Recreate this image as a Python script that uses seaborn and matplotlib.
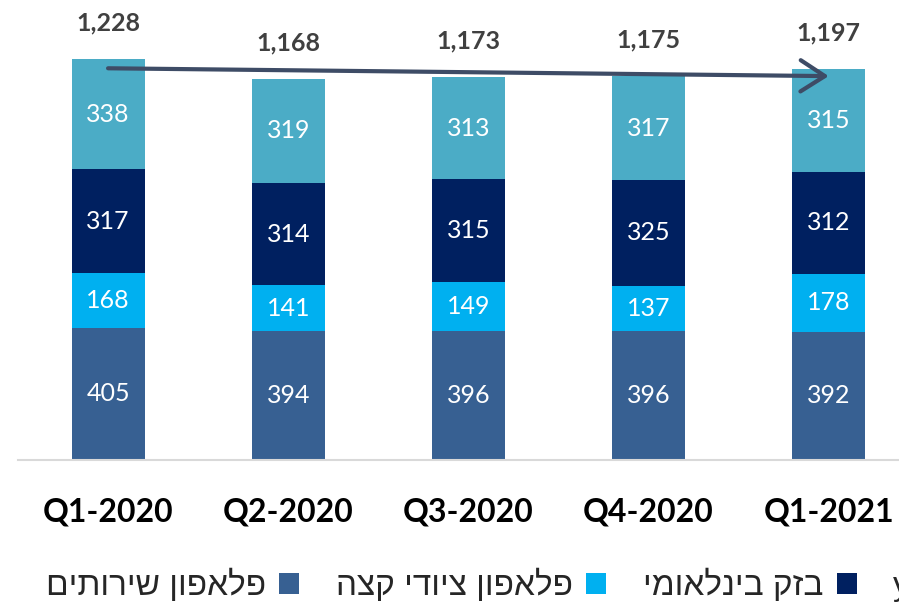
import numpy as np
import matplotlib.pyplot as plt
import seaborn as sns
from matplotlib.patches import Patch

# Quarterly revenue by segment (NIS millions)
quarters = ["Q1-2020", "Q2-2020", "Q3-2020", "Q4-2020", "Q1-2021"]
pelephone_services = [405, 394, 396, 396, 392]
pelephone_equipment = [168, 141, 149, 137, 178]
bezeq_international = [317, 314, 315, 325, 312]
yes_tv = [338, 319, 313, 317, 315]
totals = [1228, 1168, 1173, 1175, 1197]

series_names = ["פלאפון שירותים", "פלאפון ציודי קצה", "בזק בינלאומי", "yes"]
colors = ["#376092", "#00B0F0", "#002060", "#4BACC6"]


def rtl(s):
    # matplotlib has no bidi support, so reverse Hebrew text for display
    if any("\u0590" <= ch <= "\u05ff" for ch in s):
        return s[::-1]
    return s


sns.set_style("white")
plt.rcParams["font.family"] = ["Lato", "DejaVu Sans"]

fig = plt.figure(figsize=(8.99, 6.02), dpi=100)
ax = fig.add_axes([0.02, 0.236, 0.98, 0.759])

series = [pelephone_services, pelephone_equipment, bezeq_international, yes_tv]
layers = np.cumsum(series, axis=0)

# stacked bars: draw cumulative heights from the top layer down
for i in reversed(range(len(series))):
    sns.barplot(x=quarters, y=layers[i], color=colors[i], saturation=1,
                width=0.405, linewidth=0, ax=ax)

for i, vals in enumerate(series):
    for j, v in enumerate(vals):
        ax.text(j, layers[i][j] - v / 2, str(v), ha="center", va="center",
                color="white", fontsize=18)

for j, t in enumerate(totals):
    ax.annotate(f"{t:,}", (j, t), xytext=(0, 26), textcoords="offset points",
                ha="center", va="center", fontsize=18, fontweight="bold",
                color="#404040")

# trend arrow from first to last quarter
ax.annotate("", xy=(len(quarters) - 1, totals[-1] - 21), xytext=(0, totals[0] - 28),
            arrowprops=dict(arrowstyle="->,head_length=0.7,head_width=0.45",
                            color="#3E4C66", lw=3, mutation_scale=25,
                            shrinkA=0, shrinkB=0))

ax.set_xlim(-0.5, 4.39)
ax.set_ylim(0, 1400)
ax.set_yticks([])
ax.set_xlabel("")
ax.set_ylabel("")
ax.tick_params(axis="x", length=0, pad=27)
for lbl in ax.get_xticklabels():
    lbl.set_fontsize(23)
    lbl.set_fontweight("bold")
    lbl.set_color("black")
sns.despine(ax=ax, left=True)
ax.spines["bottom"].set_color("#d9d9d9")
ax.spines["bottom"].set_linewidth(1.5)

handles = [Patch(facecolor=c, edgecolor="none") for c in colors]
fig.legend(handles, [rtl(s) for s in series_names], loc="lower left",
           bbox_to_anchor=(0.036, -0.022), ncol=4, frameon=False,
           borderaxespad=0, markerfirst=False, handlelength=0.6,
           handleheight=0.6, handletextpad=0.4, columnspacing=1.1,
           prop={"family": ["Liberation Sans Narrow", "Liberation Sans", "DejaVu Sans"],
                 "size": 24})

fig.savefig("out.png", dpi=100)
